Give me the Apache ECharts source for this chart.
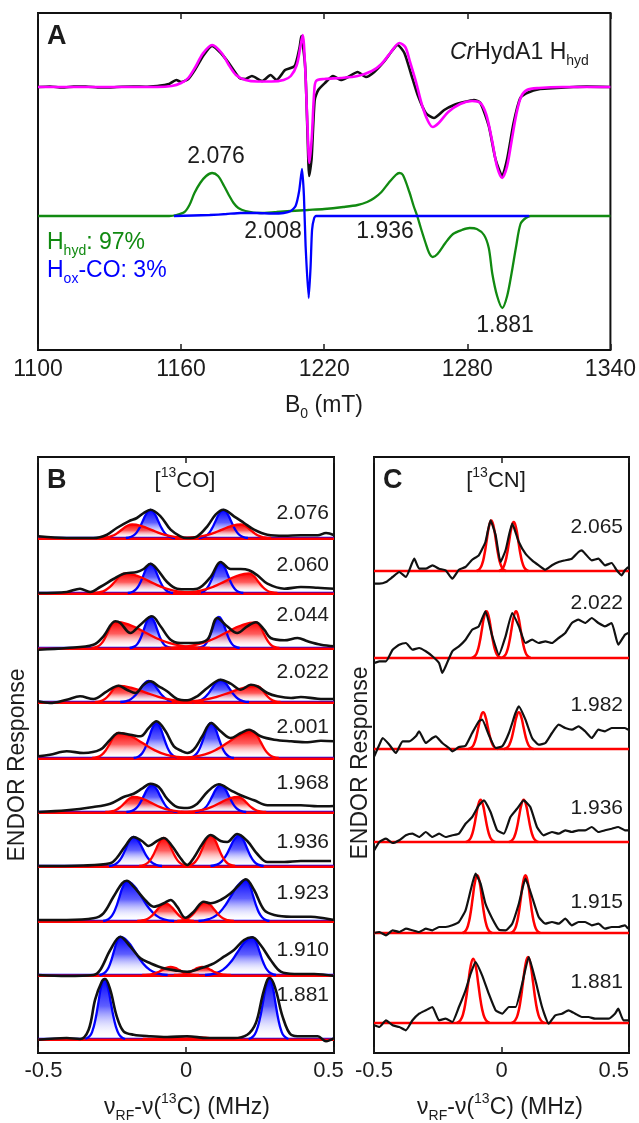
<!DOCTYPE html>
<html>
<head>
<meta charset="utf-8">
<script src="https://cdn.jsdelivr.net/npm/echarts@6.0.0/dist/echarts.min.js"></script>
<style>
  html, body { margin: 0; padding: 0; background: #fff; }
  #chart { width: 639px; height: 1123px; }
</style>
</head>
<body>
<div id="chart"></div>
<script>
// ---- panel A: EPR field sweep (mT, signal) ----
const fieldTicks = [1100, 1160, 1220, 1280, 1340];
const eprExp = [[1100,0],[1105,0.5],[1110,-0.5],[1115,0.4],[1120,0.5],[1125,-0.4],[1130,-0.5],[1135,0.3],[1140,0.5],[1145,0.2],[1150,1],[1153,2],[1155,3],[1158,7],[1160,5],[1163,8],[1166,18],[1169.5,32],[1173,41],[1177,33],[1180,24],[1184.5,9],[1187,8],[1189.7,11],[1194,6],[1197.5,12],[1200,7],[1203.6,17],[1207.6,21],[1209.7,40],[1210.4,51],[1212,21],[1213,-46],[1213.7,-89],[1214.7,-72],[1216,-13],[1217.5,-3],[1220.3,4],[1223.7,11],[1227,7],[1230,10],[1234,15],[1237.5,10],[1241,15],[1245.3,26],[1248.7,37],[1250.8,42],[1253.6,34],[1256.3,14],[1259.2,-8],[1262.6,-26],[1266,-31],[1270.3,-23],[1274.4,-18],[1278.6,-15],[1282.8,-13],[1285.5,-16],[1289,-39],[1291.8,-72],[1294.6,-89],[1296.7,-72],[1299.4,-36],[1302.2,-11],[1305,-6],[1310.5,-2],[1317.5,-1],[1324.5,0],[1330,0.4],[1340,0]];
const eprSim = [[1100,0],[1150,0],[1156,1],[1160,4],[1163,9],[1166,20],[1169,33],[1173,42],[1177,34],[1180,22],[1183,12],[1187,7],[1192,5.5],[1198,5.5],[1203,7],[1206,11],[1208.5,22],[1210,40],[1211,52],[1212,20],[1213,-40],[1213.8,-76],[1214.8,-50],[1215.8,-5],[1216.6,6],[1220,8],[1227,9],[1234,11],[1240,16],[1244,23],[1248,35],[1251.5,44],[1254,40],[1256,25],[1258.5,5],[1261,-18],[1263.5,-34],[1265.5,-40],[1268,-36],[1272,-25],[1277,-17],[1282,-14],[1285.5,-16],[1288,-28],[1290.5,-55],[1292.5,-80],[1294.6,-91],[1296.6,-80],[1298.5,-55],[1300.5,-28],[1302.5,-10],[1305,-3],[1310,-1],[1320,0],[1340,0]];
const simHhyd = [[1100,0],[1155,0],[1158,1],[1161.4,4],[1163.5,11],[1165.6,23],[1168,33],[1170.5,40],[1173,43],[1175.5,40],[1178,30],[1180,21],[1182,13],[1184,8],[1187,5],[1193,3],[1200,4],[1206,5],[1213,6],[1220,7],[1228,9],[1234,11],[1238,14],[1241,18],[1244,24],[1247,33],[1250,41],[1251.5,43],[1253,41],[1255.7,24],[1257.5,10],[1259,0],[1260.5,-12],[1262.5,-27],[1264,-37],[1265.5,-41],[1267.5,-38],[1270.8,-27],[1274,-18],[1277.7,-14],[1281,-12],[1284,-13],[1287,-19],[1289,-32],[1290.5,-58],[1292.5,-80],[1294.7,-92],[1296.7,-80],[1298.5,-58],[1300.5,-30],[1302.3,-8],[1304.5,-2],[1306.5,0],[1340,0]];
const simHoxCO = [[1157,0],[1165,0.5],[1172,1],[1179,2],[1185,3],[1192,3],[1198,2.5],[1203,3],[1206,5],[1208,10],[1209.5,25],[1210.7,47],[1211.5,20],[1212.2,-30],[1213.5,-82],[1214.3,-50],[1214.9,-14],[1215.8,-2],[1216.6,0],[1306,0]];
const eprLabels = ['2.076', '2.008', '1.936', '1.881'];

// ---- panels B and C: ENDOR (MHz offset, response) ----
const rfTicks = [-0.5, 0, 0.5];
// single-line shape used by the fitted components: [offset in widths, relative height]
const lineShape = [[-3.2,0],[-2.5,0.044],[-2,0.135],[-1.5,0.325],[-1,0.607],[-0.5,0.882],[0,1],[0.5,0.882],[1,0.607],[1.5,0.325],[2,0.135],[2.5,0.044],[3.2,0]];

const coG = ['2.076','2.060','2.044','2.022','2.001','1.968','1.936','1.923','1.910','1.881'];
const coExp = [
  [[-0.499,1.7],[-0.403,0],[-0.313,0],[-0.267,3.3],[-0.234,10],[-0.194,16.7],[-0.166,20],[-0.143,25],[-0.120,28.3],[-0.086,21.7],[-0.052,8.3],[-0.019,1.7],[0.004,0],[0.038,1.7],[0.072,11.7],[0.100,23.3],[0.126,28.3],[0.162,21.7],[0.196,15],[0.230,8.3],[0.275,3.3],[0.332,2.3],[0.388,2.7],[0.445,2.7],[0.473,5],[0.501,2.7]],
  [[-0.499,0],[-0.403,1],[-0.358,4.3],[-0.324,1],[-0.290,6],[-0.245,14],[-0.211,19.3],[-0.166,21],[-0.143,24],[-0.120,29.3],[-0.098,24],[-0.064,11],[-0.030,4.3],[0.004,3.7],[0.038,4.3],[0.083,16],[0.117,31],[0.151,24],[0.185,24],[0.213,22.7],[0.241,17.7],[0.275,9.3],[0.332,4.3],[0.388,6],[0.445,5.3],[0.501,4.3]],
  [[-0.499,-1.7],[-0.403,0],[-0.313,3.3],[-0.279,11.7],[-0.239,26.7],[-0.222,25],[-0.188,15],[-0.154,23.3],[-0.115,31.7],[-0.086,21.7],[-0.052,8.3],[-0.019,5],[0.026,5],[0.072,8.3],[0.106,30],[0.139,21.7],[0.173,15],[0.207,21.7],[0.236,25.7],[0.264,18.3],[0.286,10],[0.332,7.7],[0.377,10],[0.411,6.7],[0.456,3.3],[0.501,1.7]],
  [[-0.499,0.7],[-0.460,-1],[-0.403,2.3],[-0.358,5.7],[-0.313,3],[-0.267,10.7],[-0.228,16.3],[-0.200,12.3],[-0.171,9],[-0.143,17.3],[-0.120,20.7],[-0.092,15.7],[-0.064,10.7],[-0.030,3],[0.004,1.7],[0.038,5.7],[0.072,14],[0.117,22.3],[0.151,18.3],[0.185,12.3],[0.219,17.3],[0.241,15.7],[0.275,9],[0.309,5.7],[0.355,4],[0.388,5],[0.445,3.3],[0.501,3]],
  [[-0.499,1.7],[-0.460,3.3],[-0.403,6.7],[-0.346,5],[-0.290,8.3],[-0.256,18.3],[-0.228,25],[-0.188,23.3],[-0.154,21.7],[-0.126,30],[-0.100,36.7],[-0.069,26.7],[-0.041,11.7],[-0.013,6.7],[0.004,5],[0.026,8.3],[0.055,21.7],[0.085,35],[0.117,26.7],[0.151,20],[0.185,25],[0.213,28.3],[0.252,21.7],[0.298,18.3],[0.355,16.7],[0.411,15.7],[0.456,17.3],[0.501,16.7]],
  [[-0.499,0],[-0.403,1.7],[-0.313,5],[-0.256,8.3],[-0.211,15],[-0.177,18.3],[-0.149,23.3],[-0.120,28.3],[-0.092,25],[-0.064,13.3],[-0.030,5],[0.004,4],[0.038,8.3],[0.072,20],[0.111,27.7],[0.151,21.7],[0.185,16.7],[0.230,11.7],[0.275,6.7],[0.332,6.7],[0.388,6.7],[0.445,5.7],[0.501,6]],
  [[-0.499,0],[-0.346,0.5],[-0.256,2.7],[-0.234,8],[-0.205,20],[-0.177,29],[-0.149,25],[-0.126,20],[-0.098,25],[-0.075,28],[-0.047,20],[-0.019,8],[0.004,1],[0.026,8],[0.055,22],[0.083,31],[0.117,25],[0.139,24],[0.173,32],[0.207,25],[0.241,12],[0.275,4],[0.332,4],[0.388,5],[0.445,5],[0.490,5]],
  [[-0.499,1],[-0.403,1],[-0.313,2.7],[-0.279,7.7],[-0.245,24.3],[-0.216,37.7],[-0.200,40.3],[-0.177,34.3],[-0.143,22.7],[-0.109,14.3],[-0.075,17.7],[-0.052,21],[-0.030,14.3],[-0.002,3.3],[0.026,9.3],[0.060,19.3],[0.083,17.7],[0.117,21],[0.151,27.7],[0.179,36],[0.202,41.7],[0.230,31],[0.264,11],[0.298,6],[0.355,4.3],[0.422,4.3],[0.467,2.7],[0.501,1]],
  [[-0.499,0],[-0.403,-1],[-0.313,0],[-0.290,5],[-0.256,25],[-0.222,38.3],[-0.188,28.3],[-0.154,16.7],[-0.120,11.7],[-0.075,6.7],[-0.030,4.3],[0.004,3.3],[0.049,6.7],[0.094,11.7],[0.128,18.3],[0.162,25],[0.196,35],[0.224,37.7],[0.252,30],[0.286,15],[0.320,3.3],[0.366,1],[0.433,1],[0.501,-1]],
  [[-0.499,-0.7],[-0.403,1],[-0.358,0],[-0.329,9.3],[-0.307,39.3],[-0.284,57.7],[-0.273,60],[-0.256,49.3],[-0.234,22.7],[-0.211,7.7],[-0.177,4.3],[-0.120,2.7],[-0.064,2],[0.004,2.7],[0.072,1],[0.162,1],[0.207,4.3],[0.236,16],[0.258,42.7],[0.275,59.3],[0.284,61],[0.303,49.3],[0.326,22.7],[0.355,4.3],[0.388,2.7],[0.445,2.7],[0.473,-2.3],[0.501,1]]
];
// fitted lines: [centre MHz, height, left width, right width]
const coBlue = [
  [[-0.120,28,0.026,0.026],[0.126,28,0.026,0.026]],
  [[-0.120,29,0.024,0.024],[0.117,30,0.024,0.024]],
  [[-0.120,31,0.022,0.022],[0.111,31,0.022,0.022]],
  [[-0.126,21,0.030,0.030],[0.117,22,0.030,0.030]],
  [[-0.100,35,0.024,0.024],[0.085,35,0.024,0.024]],
  [[-0.115,27,0.027,0.027],[0.117,27,0.027,0.027]],
  [[-0.177,29,0.026,0.030],[0.179,30.5,0.030,0.026]],
  [[-0.200,39.5,0.025,0.050],[0.202,41,0.050,0.025]],
  [[-0.222,38,0.022,0.050],[0.224,37.5,0.050,0.025]],
  [[-0.276,60,0.020,0.022],[0.282,60,0.022,0.020]]
];
const coRed = [
  [[-0.182,13.5,0.035,0.065],[0.185,13.5,0.065,0.032]],
  [[-0.205,19.5,0.034,0.080],[0.213,19.5,0.080,0.030]],
  [[-0.239,26,0.025,0.100],[0.236,25.5,0.100,0.025]],
  [[-0.228,16,0.025,0.090],[0.239,16,0.090,0.025]],
  [[-0.228,25,0.028,0.080],[0.224,26.5,0.080,0.028]],
  [[-0.177,15,0.030,0.060],[0.175,15,0.060,0.030]],
  [[-0.075,28,0.026,0.026],[0.083,30.5,0.026,0.026]],
  [[-0.069,17.5,0.030,0.030],[0.066,18.5,0.030,0.030]],
  [[-0.052,8,0.030,0.030],[0.055,8,0.030,0.030]],
  [[-0.050,1,0.030,0.030],[0.050,1.5,0.030,0.030]]
];

const cnG = ['2.065','2.022','1.982','1.936','1.915','1.881'];
const cnExp = [
  [[-0.499,-12.7],[-0.479,-12.7],[-0.453,-11],[-0.427,-6],[-0.401,-1],[-0.375,-6],[-0.342,12.3],[-0.323,2.3],[-0.297,2.3],[-0.271,5.7],[-0.245,2.3],[-0.219,0.7],[-0.193,-7.7],[-0.167,1.3],[-0.141,4],[-0.115,11.3],[-0.089,15.7],[-0.063,29],[-0.043,50.7],[-0.023,35.7],[-0.004,9],[0.016,20.7],[0.042,47.3],[0.068,29],[0.094,17.3],[0.120,10.7],[0.146,5.7],[0.172,1.3],[0.198,5.7],[0.224,9],[0.250,10.7],[0.276,12.3],[0.302,19],[0.315,20.7],[0.328,17.3],[0.354,10.7],[0.380,12.3],[0.406,5.7],[0.432,8],[0.452,0.7],[0.471,-4.3],[0.484,0.7],[0.497,4]],
  [[-0.499,-5],[-0.479,-3.3],[-0.453,-3.3],[-0.427,8.3],[-0.401,13.3],[-0.375,15],[-0.349,8.3],[-0.323,10],[-0.297,6.7],[-0.271,1.7],[-0.245,-5],[-0.232,-15],[-0.219,-8.3],[-0.193,6.7],[-0.167,11.7],[-0.141,18.3],[-0.115,28.3],[-0.089,31.7],[-0.063,46.7],[-0.036,21.7],[-0.010,3.3],[0.016,21.7],[0.042,45],[0.068,31.7],[0.094,15],[0.120,18.3],[0.146,15],[0.172,16.7],[0.198,15],[0.224,20],[0.250,25],[0.276,35],[0.302,38.3],[0.328,35],[0.354,40],[0.380,35],[0.406,31.7],[0.432,35],[0.458,13.3],[0.484,23.3],[0.497,25]],
  [[-0.499,-7.3],[-0.479,4.3],[-0.466,11],[-0.440,4.3],[-0.414,-4],[-0.388,7.7],[-0.362,7.7],[-0.336,12.7],[-0.323,17.7],[-0.297,6],[-0.271,11],[-0.258,12.7],[-0.232,6],[-0.206,1],[-0.193,-2.3],[-0.167,2],[-0.141,3.3],[-0.115,16],[-0.089,27.7],[-0.076,29.3],[-0.050,14.3],[-0.023,1],[0.003,2.7],[0.029,16],[0.055,36],[0.068,42.7],[0.094,29.3],[0.120,11],[0.146,4.3],[0.172,6],[0.198,16],[0.224,24.3],[0.250,21],[0.276,19.3],[0.302,22.7],[0.328,17.7],[0.354,11],[0.380,19.3],[0.406,17.7],[0.432,21],[0.458,21],[0.484,21],[0.497,19.3]],
  [[-0.499,-8.3],[-0.479,0],[-0.453,3.3],[-0.427,-1],[-0.401,1.7],[-0.375,6.7],[-0.349,8.3],[-0.323,5],[-0.297,10],[-0.271,5],[-0.245,8.3],[-0.219,5],[-0.193,6.7],[-0.167,8.3],[-0.141,18.3],[-0.115,25],[-0.089,36.7],[-0.069,41.7],[-0.043,30],[-0.017,11.7],[0.009,8.3],[0.035,25],[0.061,33.3],[0.087,41.7],[0.113,35],[0.139,15],[0.165,6.7],[0.198,10],[0.224,8.3],[0.250,11.7],[0.276,10],[0.302,11.7],[0.328,11.7],[0.354,15],[0.380,10],[0.406,11.7],[0.432,13.3],[0.458,15],[0.484,11.7],[0.497,11.7]],
  [[-0.499,0],[-0.479,1],[-0.453,-2.3],[-0.427,2.7],[-0.401,1],[-0.375,4.3],[-0.349,2.7],[-0.323,1],[-0.297,4.3],[-0.271,2.7],[-0.245,6],[-0.219,6],[-0.193,7.7],[-0.167,11],[-0.141,22.7],[-0.121,42.7],[-0.102,59.3],[-0.082,49.3],[-0.063,29.3],[-0.036,14.3],[-0.010,3.3],[0.016,2.7],[0.042,9.3],[0.068,29.3],[0.094,54.3],[0.120,36],[0.146,16],[0.172,9.3],[0.198,11],[0.224,9.3],[0.250,14.3],[0.276,7.7],[0.302,11],[0.328,11],[0.354,7.7],[0.380,9.3],[0.406,4.3],[0.432,6],[0.458,6],[0.484,7.7],[0.497,4.3]],
  [[-0.499,-2.3],[-0.479,-4],[-0.453,2.7],[-0.427,-2.3],[-0.401,-4],[-0.375,-7.3],[-0.349,2.7],[-0.323,9.3],[-0.297,12.7],[-0.271,16],[-0.245,2.7],[-0.219,4.3],[-0.193,1],[-0.167,16],[-0.141,32.7],[-0.121,49.3],[-0.102,61],[-0.076,47.7],[-0.050,29.3],[-0.023,12.7],[0.003,9.3],[0.029,16],[0.055,16],[0.081,39.3],[0.107,66],[0.133,42.7],[0.159,16],[0.185,-0.7],[0.211,7.7],[0.237,9.3],[0.263,12.7],[0.289,9.3],[0.315,6],[0.341,6],[0.367,4.3],[0.393,4.3],[0.419,4.3],[0.445,9.3],[0.458,14.3],[0.478,2.7],[0.497,2.7]]
];
// fitted lines: [centre MHz, height, width]
const cnRed = [
  [[-0.040,50.5,0.018],[0.048,49,0.018]],
  [[-0.059,46.7,0.018],[0.057,46.7,0.018]],
  [[-0.072,36.7,0.018],[0.068,36.7,0.018]],
  [[-0.082,42.3,0.018],[0.087,42.3,0.018]],
  [[-0.095,57.7,0.018],[0.094,57.7,0.018]],
  [[-0.111,64.3,0.020],[0.104,66,0.020]]
];

// ---- layout (pixels) ----
const boxA = { left: 38, top: 13, width: 576, height: 337 };
const boxB = { left: 38, top: 457, width: 296, height: 596 };
const boxC = { left: 374, top: 457, width: 255, height: 596 };
const eprTop = 263, eprBottom = 134;
const coOffsets = [515, 460, 405, 351, 295, 241, 187, 132, 78, 14];
const cnOffsets = [482, 395, 304, 211, 120, 30];
const coLabelY = [513, 565, 615, 672, 727, 783, 842, 893, 950, 995];
const cnLabelY = [527, 603, 705, 808, 902, 982];

const FONT = '"Liberation Sans", Arial, Helvetica, sans-serif';
const INK = '#1c1c1c';
const BLUE = '#0000ff', RED = '#ff0000', GREEN = '#118a11', MAGENTA = '#ff00ff';

var myChart = echarts.init(document.getElementById('chart'), null, { renderer: 'canvas' });

function shift(points, off) {
  return points.map(p => [p[0], p[1] + off]);
}
function linePoints(p, off) {
  const c = p[0], h = p[1], wl = p[2], wr = p.length > 3 ? p[3] : p[2];
  return lineShape.map(s => [c + s[0] * (s[0] < 0 ? wl : wr), off + h * s[1]]);
}
function fade(col) {
  return {
    type: 'linear', x: 0, y: 0, x2: 0, y2: 1,
    colorStops: [
      { offset: 0, color: col },
      { offset: 0.45, color: col === BLUE ? 'rgba(40,40,255,0.75)' : 'rgba(255,40,40,0.75)' },
      { offset: 1, color: 'rgba(255,255,255,0)' }
    ]
  };
}
function xAxisFor(grid, min, max, ticks, pos, labels, labelSize) {
  return {
    type: 'value', gridIndex: grid, min: min, max: max, position: pos,
    axisLine: { show: false },
    splitLine: { show: false },
    axisTick: { show: true, inside: true, length: 6, customValues: ticks, lineStyle: { color: INK, width: 1.5 } },
    axisLabel: { show: labels, customValues: ticks, color: INK, fontSize: labelSize, fontFamily: FONT, margin: 8,
      formatter: function (v) { return String(v); } }
  };
}
function yAxisFor(grid, max) {
  return { type: 'value', gridIndex: grid, min: 0, max: max, show: false };
}

var series = [];
// panel A
series.push({ type: 'line', xAxisIndex: 0, yAxisIndex: 0, data: shift(simHhyd, eprBottom), showSymbol: false, smooth: 0.3, lineStyle: { color: GREEN, width: 2.3 } });
series.push({ type: 'line', xAxisIndex: 0, yAxisIndex: 0, data: shift(simHoxCO, eprBottom), showSymbol: false, smooth: 0.2, lineStyle: { color: BLUE, width: 2.3 } });
series.push({ type: 'line', xAxisIndex: 0, yAxisIndex: 0, data: shift(eprExp, eprTop), showSymbol: false, smooth: 0.2, lineStyle: { color: '#111', width: 2.6 } });
series.push({ type: 'line', xAxisIndex: 0, yAxisIndex: 0, data: shift(eprSim, eprTop), showSymbol: false, smooth: 0.3, lineStyle: { color: MAGENTA, width: 2.6 } });

// panel B
coG.forEach(function (g, i) {
  const off = coOffsets[i];
  series.push({ type: 'line', xAxisIndex: 2, yAxisIndex: 1, data: [[-0.5, off], [0.5, off]], showSymbol: false, lineStyle: { color: BLUE, width: 2.5 } });
  series.push({ type: 'line', xAxisIndex: 2, yAxisIndex: 1, data: [[-0.5, off - 0.8], [0.5, off - 0.8]], showSymbol: false, lineStyle: { color: RED, width: 2.5 } });
  coBlue[i].forEach(function (p) {
    series.push({ type: 'line', xAxisIndex: 2, yAxisIndex: 1, data: linePoints(p, off), showSymbol: false, smooth: 0.5,
      lineStyle: { color: BLUE, width: 2.3 }, areaStyle: { origin: off, color: fade(BLUE), opacity: 1 } });
  });
  coRed[i].forEach(function (p) {
    series.push({ type: 'line', xAxisIndex: 2, yAxisIndex: 1, data: linePoints(p, off), showSymbol: false, smooth: 0.5,
      lineStyle: { color: RED, width: 2.3 }, areaStyle: { origin: off, color: fade(RED), opacity: 1 } });
  });
});
coG.forEach(function (g, i) {
  series.push({ type: 'line', xAxisIndex: 2, yAxisIndex: 1, z: 5, data: shift(coExp[i], coOffsets[i]), showSymbol: false, smooth: 0.35,
    lineStyle: { color: '#111', width: 2.6 } });
});

// panel C
cnG.forEach(function (g, i) {
  const off = cnOffsets[i];
  series.push({ type: 'line', xAxisIndex: 4, yAxisIndex: 2, data: [[-0.5, off], [0.5, off]], showSymbol: false, lineStyle: { color: RED, width: 2.5 } });
  cnRed[i].forEach(function (p) {
    series.push({ type: 'line', xAxisIndex: 4, yAxisIndex: 2, data: linePoints(p, off), showSymbol: false, smooth: 0.5,
      lineStyle: { color: RED, width: 2.5 } });
  });
  series.push({ type: 'line', xAxisIndex: 4, yAxisIndex: 2, z: 5, data: shift(cnExp[i], off), showSymbol: false, smooth: 0.15,
    lineStyle: { color: '#111', width: 2.2 } });
});

// rich text helpers
function richSet(size, col) {
  const small = Math.round(size * 0.62);
  return {
    n: { fontSize: size, fontFamily: FONT, fill: col, color: col, lineHeight: size + 8 },
    i: { fontSize: size, fontFamily: FONT, fill: col, color: col, fontStyle: 'italic', lineHeight: size + 8 },
    s: { fontSize: small, fontFamily: FONT, fill: col, color: col, lineHeight: small, verticalAlign: 'bottom' },
    p: { fontSize: small, fontFamily: FONT, fill: col, color: col, lineHeight: small, verticalAlign: 'top' }
  };
}
function txt(x, y, text, size, opts) {
  opts = opts || {};
  const col = opts.color || INK;
  return {
    type: 'text', x: x, y: y, rotation: opts.rotation || 0, z: 100,
    style: {
      text: text, rich: richSet(size, col), fill: col,
      fontSize: size, fontFamily: FONT, fontWeight: opts.bold ? 'bold' : 'normal',
      textAlign: opts.align || 'center', textVerticalAlign: 'middle'
    }
  };
}

var graphics = [
  txt(47, 37, 'A', 27, { align: 'left', bold: true }),
  txt(450, 53, '{i|Cr}{n|HydA1 H}{s|hyd}', 23, { align: 'left' }),
  txt(216, 157, eprLabels[0], 23),
  txt(273, 232, eprLabels[1], 23),
  txt(385, 232, eprLabels[2], 23),
  txt(505, 326, eprLabels[3], 23),
  txt(47, 243, '{n|H}{s|hyd}{n|: 97%}', 23, { align: 'left', color: GREEN }),
  txt(47, 271, '{n|H}{s|ox}{n|-CO: 3%}', 23, { align: 'left', color: BLUE }),
  txt(324, 406, '{n|B}{s|0}{n| (mT)}', 23),
  txt(47, 481, 'B', 27, { align: 'left', bold: true }),
  txt(185, 481, '{n|[}{p|13}{n|CO]}', 22),
  txt(383, 481, 'C', 27, { align: 'left', bold: true }),
  txt(496, 481, '{n|[}{p|13}{n|CN]}', 22),
  txt(18, 765, 'ENDOR Response', 23, { rotation: Math.PI / 2 }),
  txt(361, 763, 'ENDOR Response', 23, { rotation: Math.PI / 2 }),
  txt(187, 1108, '{n|ν}{s|RF}{n|-ν(}{p|13}{n|C) (MHz)}', 23),
  txt(500, 1108, '{n|ν}{s|RF}{n|-ν(}{p|13}{n|C) (MHz)}', 23)
];
coG.forEach(function (g, i) { graphics.push(txt(329, coLabelY[i], g, 21, { align: 'right' })); });
cnG.forEach(function (g, i) { graphics.push(txt(623, cnLabelY[i], g, 21, { align: 'right' })); });

var gridStyle = { show: true, borderColor: '#111', borderWidth: 2, backgroundColor: 'transparent' };

var option = {
  animation: false,
  backgroundColor: '#fff',
  grid: [
    Object.assign({}, boxA, gridStyle),
    Object.assign({}, boxB, gridStyle),
    Object.assign({}, boxC, gridStyle)
  ],
  xAxis: [
    xAxisFor(0, 1100, 1340, fieldTicks, 'bottom', true, 23),
    xAxisFor(0, 1100, 1340, fieldTicks, 'top', false, 23),
    xAxisFor(1, -0.5, 0.5, rfTicks, 'bottom', true, 22),
    xAxisFor(1, -0.5, 0.5, rfTicks, 'top', false, 22),
    xAxisFor(2, -0.5, 0.5, rfTicks, 'bottom', true, 22),
    xAxisFor(2, -0.5, 0.5, rfTicks, 'top', false, 22)
  ],
  yAxis: [yAxisFor(0, boxA.height), yAxisFor(1, boxB.height), yAxisFor(2, boxC.height)],
  series: series,
  graphic: graphics
};
// panel B end labels sit slightly inside the box edges
const bLab = option.xAxis[2].axisLabel;
bLab.margin = 7;
bLab.formatter = function (v) { return v < 0 ? '{l|' + v + '}' : v > 0 ? '{r|' + v + '}' : String(v); };
bLab.rich = {
  l: { fontSize: 22, fontFamily: FONT, color: INK, padding: [0, 0, 0, 11] },
  r: { fontSize: 22, fontFamily: FONT, color: INK, padding: [0, 11, 0, 0] }
};
option.xAxis[4].axisLabel.margin = 7;
option.xAxis[4].axisLabel.alignMaxLabel = 'right';

myChart.setOption(option);
</script>
</body>
</html>
